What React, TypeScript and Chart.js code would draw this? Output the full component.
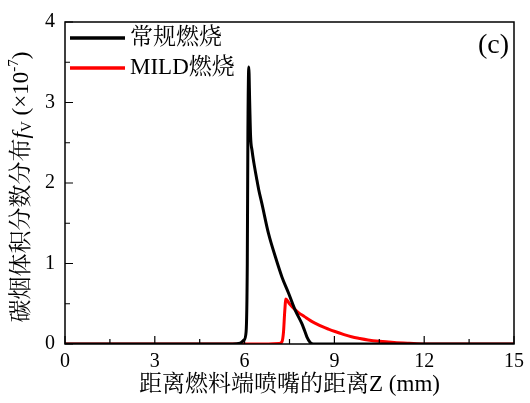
import React, { useEffect, useRef } from "react";
import { Chart, registerables } from "chart.js";

Chart.register(...registerables);

// Soot volume fraction along the axis, conventional flame
const conventionalZ = [0, 5.6, 5.85, 5.98, 6.05, 6.09, 6.11, 6.14, 6.17, 6.2, 6.25, 6.31, 6.4, 6.47, 6.58, 6.8, 7.03, 7.25, 7.47, 7.69, 7.91, 8.0, 8.08, 8.19, 8.3, 15];
const conventionalFv = [0, 0, 0.01, 0.05, 0.15, 1.0, 2.6, 3.44, 3.0, 2.58, 2.4, 2.25, 2.06, 1.92, 1.74, 1.37, 1.08, 0.83, 0.63, 0.42, 0.255, 0.17, 0.09, 0.02, 0, 0];

// Soot volume fraction along the axis, MILD flame
const mildZ = [0, 6.8, 7.15, 7.25, 7.3, 7.34, 7.38, 7.5, 7.65, 7.8, 8.0, 8.2, 8.35, 8.6, 8.8, 9.02, 9.3, 9.57, 9.85, 10.12, 10.5, 11.0, 11.5, 12, 15];
const mildFv = [0, 0, 0.005, 0.03, 0.15, 0.4, 0.56, 0.5, 0.44, 0.39, 0.34, 0.29, 0.26, 0.215, 0.185, 0.155, 0.12, 0.09, 0.068, 0.05, 0.033, 0.018, 0.008, 0, 0];

const seriesNames = ["常规燃烧", "MILD燃烧"];
const seriesColors = ["#000000", "#ff0000"];

const xTicks = [0, 3, 6, 9, 12, 15];
const xMinorTicks = [1.5, 4.5, 7.5, 10.5, 13.5];
const yTicks = [0, 1, 2, 3, 4];
const yMinorTicks = [0.5, 1.5, 2.5, 3.5];

const panelLabel = "(c)";
const xTitle = "距离燃料端喷嘴的距离Z (mm)";

const FONT = "'Liberation Serif', 'Noto Serif CJK SC', 'Noto Sans CJK SC', serif";

const toPoints = (xs: number[], ys: number[]) => xs.map((x, i) => ({ x, y: ys[i] }));

const decorPlugin = {
  id: "decor",
  afterDraw(chart: any) {
    const { ctx, chartArea, scales } = chart;
    const { left, right, top, bottom } = chartArea;
    const xs = scales.x;
    const ys = scales.y;
    ctx.save();

    // frame
    ctx.strokeStyle = "#000";
    ctx.lineWidth = 1.5;
    ctx.strokeRect(left, top, right - left, bottom - top);

    // inward ticks on bottom and left axes
    ctx.lineWidth = 1.2;
    ctx.beginPath();
    xTicks.forEach((v) => {
      const px = xs.getPixelForValue(v);
      ctx.moveTo(px, bottom);
      ctx.lineTo(px, bottom - 8);
    });
    xMinorTicks.forEach((v) => {
      const px = xs.getPixelForValue(v);
      ctx.moveTo(px, bottom);
      ctx.lineTo(px, bottom - 5);
    });
    yTicks.forEach((v) => {
      const py = ys.getPixelForValue(v);
      ctx.moveTo(left, py);
      ctx.lineTo(left + 8, py);
    });
    yMinorTicks.forEach((v) => {
      const py = ys.getPixelForValue(v);
      ctx.moveTo(left, py);
      ctx.lineTo(left + 5, py);
    });
    ctx.stroke();

    ctx.fillStyle = "#000";
    ctx.textBaseline = "middle";

    // legend
    const legendY = [38, 68];
    seriesNames.forEach((name, i) => {
      ctx.strokeStyle = seriesColors[i];
      ctx.lineWidth = 3.5;
      ctx.beginPath();
      ctx.moveTo(left + 5, legendY[i]);
      ctx.lineTo(left + 60, legendY[i]);
      ctx.stroke();
      ctx.font = `23px ${FONT}`;
      ctx.textAlign = "left";
      ctx.fillText(name, left + 65, legendY[i]);
    });

    // panel label
    ctx.font = `28px ${FONT}`;
    ctx.textAlign = "right";
    ctx.fillText(panelLabel, right - 5, top + 24);

    // x axis title
    ctx.font = `23px ${FONT}`;
    ctx.textAlign = "center";
    ctx.fillText(xTitle, (left + right) / 2, 385);

    // y axis title with italic f, subscript V and superscript -7
    const parts = [
      { t: "碳烟体积分数分布", f: `23px ${FONT}`, dy: 0 },
      { t: "f", f: `italic 23px ${FONT}`, dy: 0 },
      { t: "V", f: `15px ${FONT}`, dy: 5 },
      { t: " (×10", f: `23px ${FONT}`, dy: 0 },
      { t: "-7", f: `15px ${FONT}`, dy: -8 },
      { t: ")", f: `23px ${FONT}`, dy: 0 },
    ];
    let total = 0;
    parts.forEach((p) => {
      ctx.font = p.f;
      total += ctx.measureText(p.t).width;
    });
    ctx.translate(22, 187);
    ctx.rotate(-Math.PI / 2);
    let cx = -total / 2;
    ctx.textAlign = "left";
    parts.forEach((p) => {
      ctx.font = p.f;
      ctx.fillText(p.t, cx, p.dy);
      cx += ctx.measureText(p.t).width;
    });

    ctx.restore();
  },
};

export default function App() {
  const canvasRef = useRef<HTMLCanvasElement | null>(null);

  useEffect(() => {
    if (!canvasRef.current) return;
    const chart = new Chart(canvasRef.current, {
      type: "line",
      data: {
        datasets: [
          {
            label: seriesNames[0],
            data: toPoints(conventionalZ, conventionalFv),
            borderColor: seriesColors[0],
            borderWidth: 3,
            pointRadius: 0,
            cubicInterpolationMode: "monotone",
          },
          {
            label: seriesNames[1],
            data: toPoints(mildZ, mildFv),
            borderColor: seriesColors[1],
            borderWidth: 3,
            pointRadius: 0,
            cubicInterpolationMode: "monotone",
          },
        ],
      },
      options: {
        responsive: false,
        animation: false,
        devicePixelRatio: 1,
        layout: { padding: { top: 20, right: 13, left: 0, bottom: 0 } },
        plugins: { legend: { display: false }, tooltip: { enabled: false } },
        scales: {
          x: {
            type: "linear",
            min: 0,
            max: 15,
            afterBuildTicks: (s: any) => {
              s.ticks = xTicks.map((v) => ({ value: v }));
            },
            ticks: { color: "#000", font: { family: FONT, size: 20 }, padding: 6, maxRotation: 0 },
            grid: { display: false, drawTicks: false },
            border: { display: false },
            afterFit: (s: any) => {
              s.height = 59;
            },
          },
          y: {
            type: "linear",
            min: 0,
            max: 4,
            afterBuildTicks: (s: any) => {
              s.ticks = yTicks.map((v) => ({ value: v }));
            },
            ticks: { color: "#000", font: { family: FONT, size: 20 }, padding: 10 },
            grid: { display: false, drawTicks: false },
            border: { display: false },
            afterFit: (s: any) => {
              s.width = 65;
            },
          },
        },
      },
      plugins: [decorPlugin],
    });
    return () => chart.destroy();
  }, []);

  return (
    <div style={{ position: "absolute", left: 0, top: 0, width: 530, height: 403, background: "#fff" }}>
      <canvas ref={canvasRef} width={530} height={403} />
    </div>
  );
}
